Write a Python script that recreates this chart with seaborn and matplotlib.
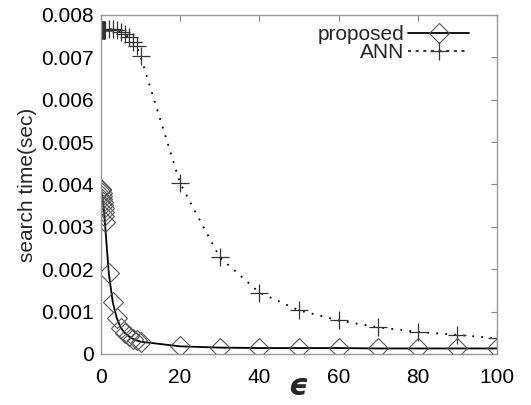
import numpy as np
import pandas as pd
import seaborn as sns
import matplotlib.pyplot as plt
from matplotlib.lines import Line2D

# valores
eps_dense = [0.0, 0.1, 0.2, 0.3, 0.4, 0.5, 0.6, 0.7, 0.8, 0.9, 1.0]
eps_rest = [2, 3, 4, 5, 6, 7, 8, 9, 10, 20, 30, 40, 50, 60, 70, 80, 90, 100]
eps = eps_dense + eps_rest

proposed = [0.00390, 0.00386, 0.00380, 0.00373, 0.00366, 0.00359, 0.00352, 0.00344, 0.00336, 0.00326, 0.00312,
            0.00190, 0.00122, 0.00085, 0.00062, 0.00050, 0.00042, 0.00036, 0.00032, 0.00029,
            0.00018, 0.00015, 0.00014, 0.00014, 0.00014, 0.00013, 0.00013, 0.00013, 0.00013]
ann = [0.00765, 0.00765, 0.00765, 0.00765, 0.00765, 0.00765, 0.00765, 0.00765, 0.00765, 0.00765, 0.00765,
       0.00766, 0.00766, 0.00764, 0.00760, 0.00755, 0.00747, 0.00737, 0.00726, 0.00703,
       0.00403, 0.00228, 0.00145, 0.00103, 0.00079, 0.00063, 0.00052, 0.00045, 0.00037]

df = pd.DataFrame({"eps": eps, "proposed": proposed, "ANN": ann})

sns.set_style("white")
plt.rcParams['font.family'] = ['Liberation Sans', 'DejaVu Sans']

fig = plt.figure(figsize=(5.31, 4.05), dpi=100)
ax = fig.add_axes([0.190, 0.126, 0.746, 0.837])

sns.lineplot(data=df, x="eps", y="ANN", ax=ax, color="black", linewidth=1.3,
             linestyle=(0, (1, 4)), marker="+", markersize=13, markeredgewidth=0.9,
             markeredgecolor="#333333")
sns.lineplot(data=df, x="eps", y="proposed", ax=ax, color="black", linewidth=1.3,
             marker="D", markersize=10, markerfacecolor="none", markeredgewidth=0.8,
             markeredgecolor="#555555")

ax.set_xlim(0, 100)
ax.set_ylim(0, 0.008)
ax.set_xticks([0, 20, 40, 60, 80, 100])
ax.set_yticks([0, 0.001, 0.002, 0.003, 0.004, 0.005, 0.006, 0.007, 0.008])
ax.set_yticklabels(["0", "0.001", "0.002", "0.003", "0.004", "0.005", "0.006", "0.007", "0.008"])
ax.tick_params(direction="in", length=4, width=0.8, color="#888888", labelsize=15,
               top=True, right=True, labelcolor="black")
ax.tick_params(axis="x", pad=10)
ax.tick_params(axis="y", pad=5)

for s in ax.spines.values():
    s.set_color("#999999")
    s.set_linewidth(1.0)

ax.set_xlabel("\u03f5", fontsize=22, fontweight="bold", fontstyle="oblique",
              family="DejaVu Sans", labelpad=-11)
ax.set_ylabel("search time(sec)", fontsize=15, labelpad=3)

handles = [
    Line2D([], [], color="black", linewidth=1.3, marker="D", markersize=10,
           markerfacecolor="none", markeredgecolor="#555555", markeredgewidth=0.8),
    Line2D([], [], color="black", linewidth=1.1, linestyle=(0, (2, 3)), marker="+",
           markersize=13, markeredgewidth=0.9, markeredgecolor="#333333"),
]
leg = ax.legend(handles, ["proposed", "ANN"], loc="upper right", frameon=False,
                markerfirst=False, fontsize=15, handlelength=2.9, handletextpad=0.2,
                labelspacing=-0.05, borderaxespad=0.1, bbox_to_anchor=(0.955, 1.0))
for t in leg.get_texts():
    t.set_ha("right")

fig.savefig("out.png", dpi=100)
